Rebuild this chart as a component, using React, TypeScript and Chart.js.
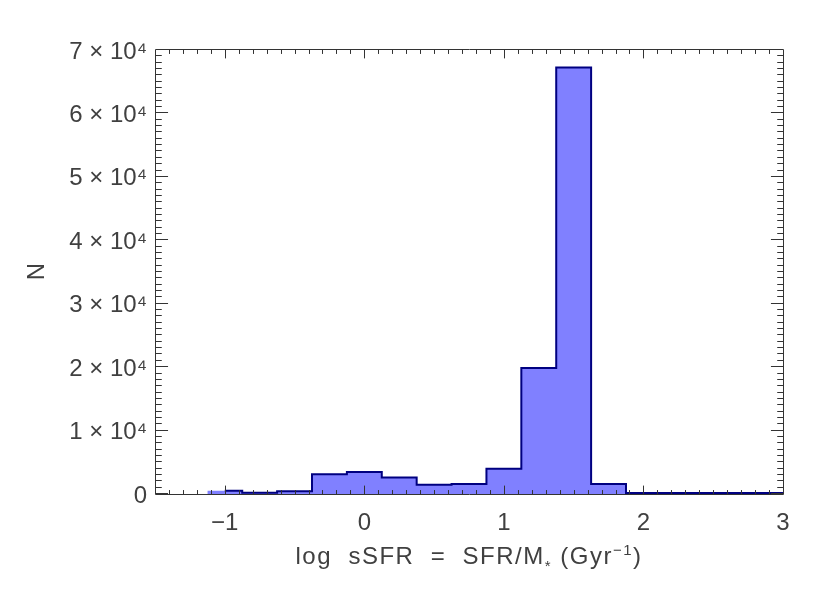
import React, { useEffect, useRef } from "react";
import { Chart, registerables } from "chart.js";

Chart.register(...registerables);

// ---- data ----
const binCenters = [-1.0, -0.75, -0.5, -0.25, 0.0, 0.25, 0.5, 0.75, 1.0, 1.25, 1.5, 1.75, 2.0, 2.25, 2.5, 2.75, 3.0];
const counts = [350, 50, 300, 2960, 3310, 2460, 1310, 1420, 3830, 19700, 67100, 1420, 0, 0, 0, 0, 0];
const binWidth = 0.25;

const xTicks = [-1, 0, 1, 2, 3];
const yTicks = [0, 10000, 20000, 30000, 40000, 50000, 60000, 70000];
const xRange = [-1.5, 3];
const yRange = [-150, 70000];
const xMinorStep = 0.1;
const yMinorStep = 1000;

const FONT = '"Liberation Sans", Arial, Helvetica, sans-serif';
const TEXT_COLOR = "#404040";
const AXIS_COLOR = "#333333";
const FILL_COLOR = "#8080FF";
const LINE_COLOR = "#000080";

const titlePieces = [
  { t: "log  sSFR  =  SFR/M", size: 24, dy: 0 },
  { t: "*", size: 15, dy: 7 },
  { t: " (Gyr", size: 24, dy: 0 },
  { t: "\u22121", size: 15, dy: -9 },
  { t: ")", size: 24, dy: 0 },
];

const boxPlugin = {
  id: "idlBox",
  afterDatasetsDraw(chart: any) {
    const { ctx, chartArea, scales } = chart;
    const xs = scales.x;
    const ys = scales.y;
    const L = Math.round(chartArea.left) + 0.5;
    const R = Math.round(chartArea.right) + 0.5;
    const T = Math.round(chartArea.top) + 0.5;
    const B = Math.round(chartArea.bottom) + 0.5;
    const h = B - T;
    const w = R - L;
    const xMajLen = 0.02 * h;
    const yMajLen = 0.02 * w;
    ctx.save();
    ctx.strokeStyle = AXIS_COLOR;
    ctx.lineWidth = 1;
    ctx.beginPath();
    ctx.rect(L, T, w, h);
    ctx.stroke();
    ctx.beginPath();
    // x ticks
    const nx = Math.round((xRange[1] - xRange[0]) / xMinorStep);
    for (let i = 1; i < nx; i++) {
      const v = +(xRange[0] + i * xMinorStep).toFixed(6);
      const isMaj = xTicks.some((t) => Math.abs(t - v) < 1e-6);
      const len = isMaj ? xMajLen : xMajLen / 2;
      const px = Math.round(xs.getPixelForValue(v)) + 0.5;
      ctx.moveTo(px, B);
      ctx.lineTo(px, B - len);
      ctx.moveTo(px, T);
      ctx.lineTo(px, T + len);
    }
    // y ticks
    const ny = Math.round(yTicks[yTicks.length - 1] / yMinorStep);
    for (let i = 0; i < ny; i++) {
      const v = i * yMinorStep;
      const isMaj = yTicks.includes(v);
      const len = isMaj ? yMajLen : yMajLen / 2;
      const py = Math.round(ys.getPixelForValue(v)) + 0.5;
      ctx.moveTo(L, py);
      ctx.lineTo(L + len, py);
      ctx.moveTo(R, py);
      ctx.lineTo(R - len, py);
    }
    ctx.stroke();
    ctx.restore();
  },
  afterDraw(chart: any) {
    const { ctx, chartArea } = chart;
    ctx.save();
    ctx.fillStyle = TEXT_COLOR;
    ctx.textBaseline = "alphabetic";
    ctx.textAlign = "left";
    (ctx as any).letterSpacing = "1.5px";
    const widths = titlePieces.map((p) => {
      ctx.font = `${p.size}px ${FONT}`;
      return ctx.measureText(p.t).width;
    });
    const total = widths.reduce((a, b) => a + b, 0);
    let x = (chartArea.left + chartArea.right) / 2 - total / 2;
    const baseline = chartArea.bottom + 70;
    titlePieces.forEach((p, i) => {
      ctx.font = `${p.size}px ${FONT}`;
      ctx.fillText(p.t, x, baseline + p.dy);
      x += widths[i];
    });
    ctx.restore();
  },
};

export default function App() {
  const ref = useRef<HTMLCanvasElement>(null);
  useEffect(() => {
    if (!ref.current) return;
    Chart.defaults.font.family = FONT;
    const outline = binCenters.map((x, i) => ({ x, y: counts[i] }));
    const edges = binCenters.map((c) => c - binWidth / 2);
    edges.push(binCenters[binCenters.length - 1] + binWidth / 2);
    const fillPts = edges.map((x, i) => ({ x, y: counts[Math.min(i, counts.length - 1)] }));
    const chart = new Chart(ref.current, {
      type: "line",
      data: {
        datasets: [
          {
            data: outline,
            stepped: "middle",
            borderColor: LINE_COLOR,
            borderWidth: 2,
            pointRadius: 0,
            fill: false,
          },
          {
            data: fillPts,
            stepped: "before",
            borderColor: "rgba(0,0,0,0)",
            borderWidth: 0,
            backgroundColor: FILL_COLOR,
            pointRadius: 0,
            fill: "start",
          },
        ],
      } as any,
      options: {
        animation: false,
        responsive: false,
        events: [],
        layout: { padding: { left: 0, right: 47, top: 49, bottom: 0 } },
        plugins: { legend: { display: false }, tooltip: { enabled: false } },
        scales: {
          x: {
            type: "linear",
            min: xRange[0],
            max: xRange[1],
            grid: { display: false, drawTicks: false },
            border: { display: false },
            afterBuildTicks: (s: any) => {
              s.ticks = xTicks.map((v) => ({ value: v }));
            },
            afterFit: (s: any) => {
              s.height = 99;
            },
            ticks: {
              autoSkip: false,
              maxRotation: 0,
              padding: 15,
              color: TEXT_COLOR,
              font: { size: 24 },
              callback: (v: any) => (v < 0 ? "\u2212" + Math.abs(v) : String(v)),
            },
          },
          y: {
            type: "linear",
            min: yRange[0],
            max: yRange[1],
            grid: { display: false, drawTicks: false },
            border: { display: false },
            afterBuildTicks: (s: any) => {
              s.ticks = yTicks.map((v) => ({ value: v }));
            },
            afterFit: (s: any) => {
              s.width = 155;
            },
            title: {
              display: true,
              text: "N",
              color: TEXT_COLOR,
              font: { size: 24 },
              padding: { top: 23, bottom: 0 },
            },
            ticks: {
              autoSkip: false,
              padding: 8,
              labelOffset: 3,
              color: TEXT_COLOR,
              font: { size: 24 },
              callback: (v: any) => (v === 0 ? "0" : `${v / 10000} \u00d7 10\u2074`),
            },
          },
        },
      },
      plugins: [boxPlugin],
    });
    return () => chart.destroy();
  }, []);
  return (
    <div style={{ position: "fixed", left: 0, top: 0, width: 830, height: 593, background: "#fff" }}>
      <canvas ref={ref} width={830} height={593} style={{ display: "block" }} />
    </div>
  );
}
